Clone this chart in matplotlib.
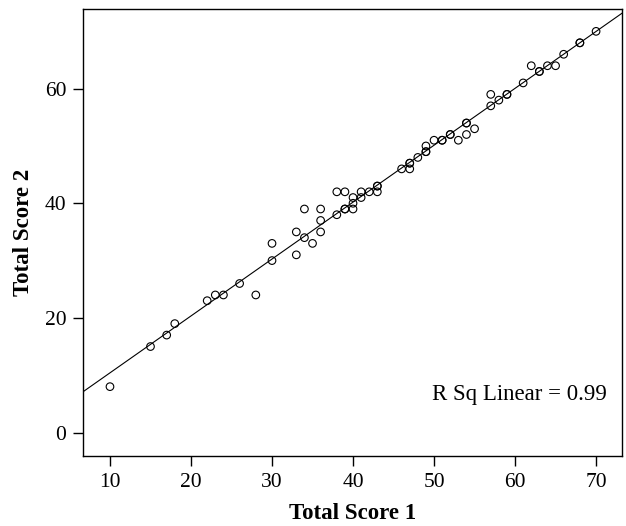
import numpy as np
import matplotlib
matplotlib.use("Agg")
import matplotlib.pyplot as plt

plt.rcParams['font.family'] = ['Liberation Serif', 'DejaVu Serif']

# scores (duplicates where circles look heavier)
score1 = [10, 15, 17, 18, 22, 23, 24, 26, 28,
          30, 30, 33, 33, 34, 34, 35, 36, 36, 36,
          38, 38, 39, 39, 39, 40, 40, 40, 41, 41, 42, 43, 43, 43,
          46, 47, 47, 47, 48, 49, 49, 49, 50, 51, 51, 52, 52, 53,
          54, 54, 54, 55, 57, 57, 58, 59, 59, 61, 62, 63, 63,
          64, 65, 66, 68, 68, 70]
score2 = [8, 15, 17, 19, 23, 24, 24, 26, 24,
          30, 33, 31, 35, 34, 39, 33, 35, 37, 39,
          38, 42, 42, 39, 39, 39, 40, 41, 41, 42, 42, 42, 43, 43,
          46, 46, 47, 47, 48, 49, 49, 50, 51, 51, 51, 52, 52, 51,
          52, 54, 54, 53, 57, 59, 58, 59, 59, 61, 64, 63, 63,
          64, 64, 66, 68, 68, 70]

xticks = [10, 20, 30, 40, 50, 60, 70]
yticks = [0, 20, 40, 60]
r2_label = "R Sq Linear = 0.99"

fig = plt.figure(figsize=(6.26, 5.26), dpi=100)
ax = fig.add_axes([83/626, 1 - 456/526, 539/626, 447/526])

ax.scatter(score1, score2, s=30, facecolors='none', edgecolors='black',
           linewidths=0.8, zorder=3)

# linear fit line across the whole plot
slope, icpt = np.polyfit(score1, score2, 1)
xl = np.array([6.67, 73.2])
ax.plot(xl, slope * xl + icpt, color='black', lw=0.8, zorder=2)

ax.set_xlim(6.67, 73.2)
ax.set_ylim(-4.1, 73.9)
ax.set_xticks(xticks)
ax.set_yticks(yticks)
ax.tick_params(axis='both', direction='out', length=7, width=1,
               labelsize=15.5, pad=5)

for sp in ax.spines.values():
    sp.set_linewidth(1)

ax.set_xlabel("Total Score 1", fontsize=16.5, fontweight='bold', labelpad=8)
ax.set_ylabel("Total Score 2", fontsize=16.5, fontweight='bold', labelpad=8)

ax.text(0.972, 0.137, r2_label, transform=ax.transAxes, fontsize=16.5,
        ha='right', va='center')

fig.savefig("out.png", dpi=100)
